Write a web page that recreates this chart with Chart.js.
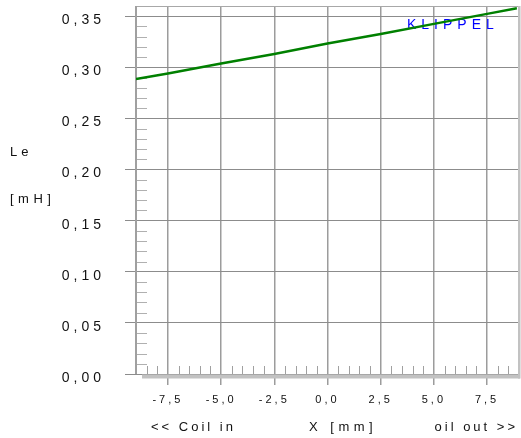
<!DOCTYPE html>
<html><head><meta charset="utf-8">
<script src="https://cdn.jsdelivr.net/npm/chart.js@4/dist/chart.umd.min.js"></script>
<style>html,body{margin:0;padding:0;background:#fff}#wrap{width:521px;height:438px}</style>
</head><body><div id="wrap"><canvas id="c" width="521" height="438"></canvas></div>
<script>
// ---- data ----
const xPositions = [-9, -7.5, -5, -2.5, 0, 2.5, 5, 7.5, 8.9];           // X [mm]
const leValues   = [0.2886, 0.2939, 0.3037, 0.3131, 0.3233, 0.3326, 0.3425, 0.3523, 0.3578]; // Le [mH]
const xTickValues = [-7.5, -5, -2.5, 0, 2.5, 5, 7.5];
const xTickLabels = ['-7,5', '-5,0', '-2,5', '0,0', '2,5', '5,0', '7,5'];
const yTickValues = [0, 0.05, 0.10, 0.15, 0.20, 0.25, 0.30, 0.35];
const yTickLabels = ['0,00', '0,05', '0,10', '0,15', '0,20', '0,25', '0,30', '0,35'];
const xMinorTicks = [-8.5,-8,-7,-6.5,-6,-5.5,-4.5,-4,-3.5,-3,-2,-1.5,-1,-0.5,0.5,1,1.5,2,3,3.5,4,4.5,5.5,6,6.5,7,8,8.5];
const yMinorTicks = [0.01,0.02,0.03,0.04,0.06,0.07,0.08,0.09,0.11,0.12,0.13,0.14,0.16,0.17,0.18,0.19,
                     0.21,0.22,0.23,0.24,0.26,0.27,0.28,0.29,0.31,0.32,0.33,0.34];
const yAxisName = 'Le';
const yAxisUnit = '[mH]';
const xTitleLeft = '<< Coil in';
const xTitleMid = 'X [mm]';
const xTitleRight = 'oil out >>';
const brand = 'KLIPPEL';

const FONT = "'Liberation Sans', Arial, sans-serif";

function wrapScale(scale, spacing) {
  if (!scale || scale._lsWrapped) return;
  const orig = scale.drawLabels;
  scale.drawLabels = function (ca) {
    const c = this.ctx; c.save(); c.letterSpacing = spacing; orig.call(this, ca); c.restore();
  };
  scale._lsWrapped = true;
}

function txt(ctx, s, x, y, size, color, spacing, align) {
  ctx.save();
  ctx.font = size + 'px ' + FONT;
  ctx.fillStyle = color;
  ctx.letterSpacing = spacing;
  ctx.textAlign = align || 'left';
  ctx.textBaseline = 'middle';
  ctx.fillText(s, x, y);
  ctx.restore();
}

const deco = {
  id: 'deco',
  afterLayout(chart) {
    wrapScale(chart.scales.x, '3px');
    wrapScale(chart.scales.y, '4px');
  },
  beforeDatasetsDraw(chart) {
    const ctx = chart.ctx, a = chart.chartArea, xs = chart.scales.x, ys = chart.scales.y;
    ctx.save();
    // minor ticks on left border
    ctx.strokeStyle = '#b0b0b0'; ctx.lineWidth = 1;
    ctx.beginPath();
    yMinorTicks.forEach(v => { const p = Math.round(ys.getPixelForValue(v)) + 0.5; ctx.moveTo(a.left, p); ctx.lineTo(a.left + 11, p); });
    ctx.stroke();
    // minor ticks on bottom
    ctx.strokeStyle = '#a0a0a0';
    ctx.beginPath();
    xMinorTicks.forEach(v => { const p = Math.round(xs.getPixelForValue(v)) + 0.5; ctx.moveTo(p, a.bottom - 8); ctx.lineTo(p, a.bottom); });
    ctx.stroke();
    // borders
    ctx.strokeStyle = '#a8a8a8'; ctx.lineWidth = 1;
    ctx.beginPath(); ctx.moveTo(a.left - 1, a.top + 0.5); ctx.lineTo(a.right + 1, a.top + 0.5); ctx.stroke();
    ctx.strokeStyle = '#a0a0a0'; ctx.lineWidth = 2;
    ctx.beginPath(); ctx.moveTo(a.left, a.top); ctx.lineTo(a.left, a.bottom); ctx.stroke();
    // shadow bands
    ctx.fillStyle = '#c2c2c2';
    ctx.fillRect(a.left + 6, a.bottom + 0.5, a.right - a.left - 5, 4);
    ctx.fillRect(a.right - 1, a.top, 2.5, a.bottom - a.top + 4.5);
    ctx.restore();
    txt(ctx, brand, 407, 25, 14, '#0000ff', '5px', 'left');
  },
  afterDraw(chart) {
    const ctx = chart.ctx;
    txt(ctx, yAxisName, 10, 152, 13, '#111', '4px', 'left');
    txt(ctx, yAxisUnit, 10, 199, 13, '#111', '4.5px', 'left');
    txt(ctx, xTitleLeft, 151, 427, 13, '#111', '3px', 'left');
    txt(ctx, xTitleMid, 309, 427, 13, '#111', '4.5px', 'left');
    txt(ctx, xTitleRight, 518, 427, 13, '#111', '3px', 'right');
  }
};

new Chart(document.getElementById('c'), {
  type: 'line',
  data: {
    datasets: [{
      data: xPositions.map((x, i) => ({ x: x, y: leValues[i] })),
      borderColor: '#008000',
      borderWidth: 2.5,
      pointRadius: 0,
      tension: 0,
      fill: false
    }]
  },
  options: {
    responsive: false,
    animation: false,
    devicePixelRatio: 1,
    layout: { padding: { top: 6, right: 2, left: 0, bottom: 0 } },
    plugins: { legend: { display: false }, tooltip: { enabled: false } },
    scales: {
      x: {
        type: 'linear', min: -9, max: 9,
        afterBuildTicks: s => { s.ticks = xTickValues.map(v => ({ value: v })); },
        afterFit: s => { s.height = 64; s.paddingLeft = 0; s.paddingRight = 0; s.paddingTop = 0; s.paddingBottom = 0; },
        grid: { color: '#9c9c9c', lineWidth: 1.5, tickLength: 11, drawTicks: true },
        border: { display: false },
        ticks: {
          autoSkip: false, maxRotation: 0, padding: 8, color: '#111',
          font: { family: FONT, size: 11 },
          callback: (v, i) => xTickLabels[i]
        }
      },
      y: {
        type: 'linear', min: 0, max: 0.36,
        afterBuildTicks: s => { s.ticks = yTickValues.map(v => ({ value: v })); },
        afterFit: s => { s.width = 136; s.paddingTop = 0; s.paddingBottom = 0; s.paddingLeft = 0; s.paddingRight = 0; },
        grid: { color: '#8c8c8c', lineWidth: 1, tickLength: 11, drawTicks: true },
        border: { display: false },
        ticks: {
          padding: 20, color: '#111', labelOffset: 4,
          font: { family: FONT, size: 14 },
          callback: (v, i) => yTickLabels[i]
        }
      }
    }
  },
  plugins: [deco]
});
</script>
</body></html>
